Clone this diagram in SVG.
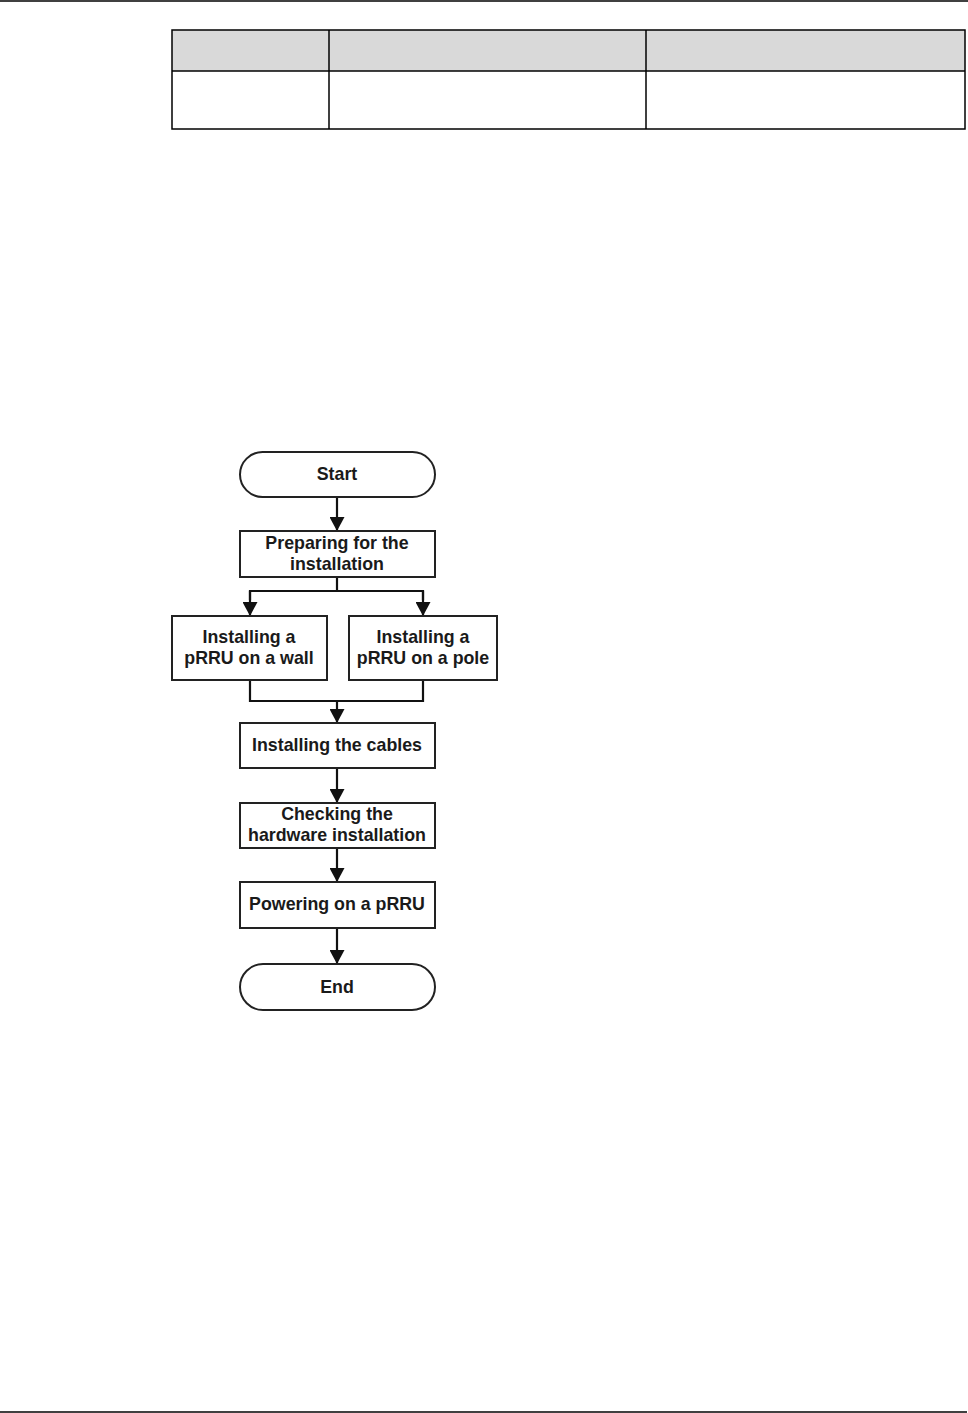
<svg xmlns="http://www.w3.org/2000/svg" width="968" height="1413" viewBox="0 0 968 1413">
<style>
.box{fill:#fff;stroke:#222;stroke-width:2}
.t{font-family:"Liberation Sans",Arial,sans-serif;font-weight:bold;font-size:17.8px;fill:#1a1a1a;text-anchor:middle}
.c{fill:none;stroke:#111;stroke-width:2.2}
.tb{stroke:#000;stroke-width:1.5;fill:none}
</style>
<defs>
<marker id="ah" markerWidth="15" markerHeight="15" refX="14" refY="7.5" orient="auto" markerUnits="userSpaceOnUse">
<path d="M0,0 L14,7.5 L0,15 Z" fill="#111"/>
</marker>
</defs>
<rect width="968" height="1413" fill="#fff"/>
<line x1="0" y1="1" x2="968" y2="1" stroke="#000" stroke-width="1.5"/>
<line x1="0" y1="1412" x2="967" y2="1412" stroke="#000" stroke-width="1.5"/>
<g id="table">
<rect x="172" y="30" width="793" height="41" fill="#d9d9d9"/>
<rect class="tb" x="172" y="30" width="793" height="99"/>
<line class="tb" x1="172" y1="71" x2="965" y2="71"/>
<line class="tb" x1="329" y1="30" x2="329" y2="129"/>
<line class="tb" x1="646" y1="30" x2="646" y2="129"/>
</g>
<g id="connectors">
<line class="c" x1="337" y1="497" x2="337" y2="531" marker-end="url(#ah)"/>
<polyline class="c" points="337,577 337,591"/>
<polyline class="c" points="250,600 250,591 423,591 423,600"/>
<line class="c" x1="250" y1="591" x2="250" y2="616" marker-end="url(#ah)"/>
<line class="c" x1="423" y1="591" x2="423" y2="616" marker-end="url(#ah)"/>
<polyline class="c" points="250,680 250,701 423,701 423,680"/>
<line class="c" x1="337" y1="701" x2="337" y2="723" marker-end="url(#ah)"/>
<line class="c" x1="337" y1="768" x2="337" y2="803" marker-end="url(#ah)"/>
<line class="c" x1="337" y1="848" x2="337" y2="882" marker-end="url(#ah)"/>
<line class="c" x1="337" y1="928" x2="337" y2="964" marker-end="url(#ah)"/>
</g>
<g id="start">
<rect class="box" x="240" y="452" width="195" height="45" rx="22.5" ry="22.5"/>
<text class="t" x="337" y="480">Start</text>
</g>
<g id="prepare">
<rect class="box" x="240" y="531" width="195" height="46"/>
<text class="t" x="337" y="549">Preparing for the</text>
<text class="t" x="337" y="570">installation</text>
</g>
<g id="wall">
<rect class="box" x="172" y="616" width="155" height="64"/>
<text class="t" x="249" y="643">Installing a</text>
<text class="t" x="249" y="664">pRRU on a wall</text>
</g>
<g id="pole">
<rect class="box" x="349" y="616" width="148" height="64"/>
<text class="t" x="423" y="643">Installing a</text>
<text class="t" x="423" y="664">pRRU on a pole</text>
</g>
<g id="cables">
<rect class="box" x="240" y="723" width="195" height="45"/>
<text class="t" x="337" y="751">Installing the cables</text>
</g>
<g id="check">
<rect class="box" x="240" y="803" width="195" height="45"/>
<text class="t" x="337" y="820">Checking the</text>
<text class="t" x="337" y="841">hardware installation</text>
</g>
<g id="power">
<rect class="box" x="240" y="882" width="195" height="46"/>
<text class="t" x="337" y="910">Powering on a pRRU</text>
</g>
<g id="end">
<rect class="box" x="240" y="964" width="195" height="46" rx="23" ry="23"/>
<text class="t" x="337" y="993">End</text>
</g>
</svg>
